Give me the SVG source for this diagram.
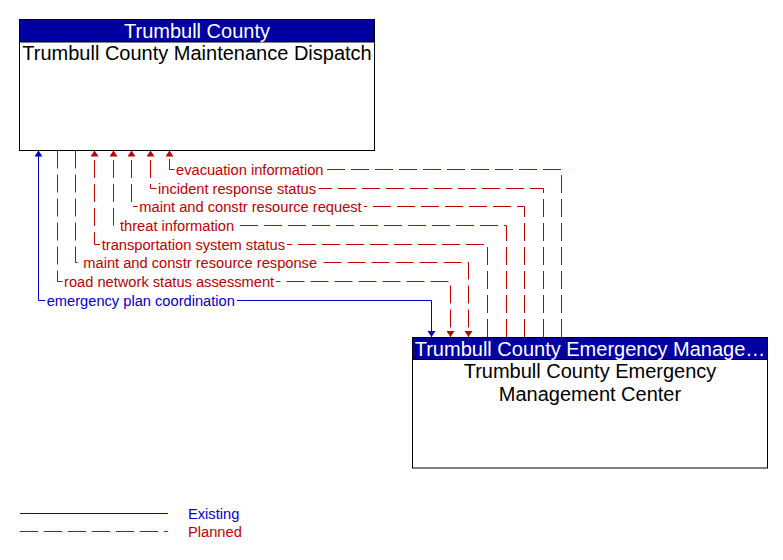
<svg xmlns="http://www.w3.org/2000/svg" width="783" height="560" viewBox="0 0 783 560">
<style>
  .box { fill: #ffffff; stroke: #000000; stroke-width: 1; }
  .hdr { fill: #0000A0; stroke: #000000; stroke-width: 1; }
  .hdrtxt { font-family: "Liberation Sans", Arial, sans-serif; font-size: 20px; fill: #ffffff; text-anchor: middle; }
  .bodytxt { font-family: "Liberation Sans", Arial, sans-serif; font-size: 20px; fill: #000000; text-anchor: middle; }
  .planned { fill: none; stroke: #C00000; stroke-width: 1; stroke-dasharray: 18 6; }
  .existing { fill: none; stroke: #0000C0; stroke-width: 1; }
  .lbl { font-family: "Liberation Sans", Arial, sans-serif; font-size: 14.67px; }
  .lred { fill: #C00000; }
  .lblue { fill: #0000CC; }
  .ko { fill: #ffffff; stroke: none; }
</style>
<defs>
  <marker id="arrRed" viewBox="0 0 6 8" refX="6" refY="4" markerWidth="6" markerHeight="8" markerUnits="userSpaceOnUse" orient="auto-start-reverse">
    <path d="M0,0 L6,4 L0,8 Z" fill="#C00000"/>
  </marker>
  <marker id="arrBlue" viewBox="0 0 6 8" refX="6" refY="4" markerWidth="6" markerHeight="8" markerUnits="userSpaceOnUse" orient="auto-start-reverse">
    <path d="M0,0 L6,4 L0,8 Z" fill="#0000C0"/>
  </marker>
</defs>

<g id="connectors">
  <g id="c-evacuation">
    <path class="planned" d="M561.5,337 V169.5 H169.5 V150.5" marker-end="url(#arrRed)"/>
    <rect class="ko" x="174.5" y="165.5" width="151" height="8"/>
    <text class="lbl lred" x="176" y="174.5">evacuation information</text>
  </g>
  <g id="c-incident">
    <path class="planned" d="M543.5,337 V188.5 H150.5 V150.5" marker-end="url(#arrRed)"/>
    <rect class="ko" x="156.5" y="184.5" width="162" height="8"/>
    <text class="lbl lred" x="158" y="193.5">incident response status</text>
  </g>
  <g id="c-request">
    <path class="planned" d="M524.5,337 V206.5 H131.5 V150.5" marker-end="url(#arrRed)"/>
    <rect class="ko" x="137.8" y="202.5" width="226" height="8"/>
    <text class="lbl lred" x="139.3" y="211.5">maint and constr resource request</text>
  </g>
  <g id="c-threat">
    <path class="planned" d="M506.5,337 V225.5 H113.5 V150.5" marker-end="url(#arrRed)"/>
    <rect class="ko" x="118.5" y="221.5" width="117.5" height="8"/>
    <text class="lbl lred" x="120" y="230.5">threat information</text>
  </g>
  <g id="c-transport">
    <path class="planned" d="M487.5,337 V244.5 H94.5 V150.5" marker-end="url(#arrRed)"/>
    <rect class="ko" x="100.2" y="240.5" width="186.8" height="8"/>
    <text class="lbl lred" x="101.7" y="249.5">transportation system status</text>
  </g>
  <g id="c-response">
    <path class="planned" d="M75.5,150.5 V262.5 H468.5 V337" marker-end="url(#arrRed)"/>
    <rect class="ko" x="81.8" y="258.5" width="237.4" height="8"/>
    <text class="lbl lred" x="83.3" y="267.5">maint and constr resource response</text>
  </g>
  <g id="c-roadnet">
    <path class="planned" d="M57.5,150.5 V281.5 H450.5 V337" marker-end="url(#arrRed)"/>
    <rect class="ko" x="62.5" y="277.5" width="213.6" height="8"/>
    <text class="lbl lred" x="64" y="286.5">road network status assessment</text>
  </g>
  <g id="c-emergency">
    <path class="existing" d="M38.5,150.5 V300.5 H431.5 V337" marker-start="url(#arrBlue)" marker-end="url(#arrBlue)"/>
    <rect class="ko" x="45.2" y="296.5" width="191.6" height="8"/>
    <text class="lbl lblue" x="46.7" y="305.5">emergency plan coordination</text>
  </g>
</g>

<g id="node-maint-dispatch">
  <rect class="box" x="19.5" y="19.5" width="355" height="131"/>
  <rect class="hdr" x="19.5" y="19.5" width="355" height="22.5"/>
  <text class="hdrtxt" x="197" y="38">Trumbull County</text>
  <text class="bodytxt" x="197" y="60">Trumbull County Maintenance Dispatch</text>
</g>

<g id="node-emc">
  <rect class="box" x="412.5" y="337.5" width="355" height="130.5"/>
  <rect class="hdr" x="412.5" y="337.5" width="355" height="22"/>
  <text class="hdrtxt" x="590" y="356">Trumbull County Emergency Manage…</text>
  <text class="bodytxt" x="590" y="378">Trumbull County Emergency</text>
  <text class="bodytxt" x="590" y="401">Management Center</text>
</g>

<g id="legend">
  <line class="existing" x1="20" y1="513.5" x2="168" y2="513.5"/>
  <text class="lbl lblue" x="188" y="519">Existing</text>
  <line class="planned" x1="20" y1="531.5" x2="168" y2="531.5"/>
  <text class="lbl lred" x="188" y="537">Planned</text>
</g>
</svg>
